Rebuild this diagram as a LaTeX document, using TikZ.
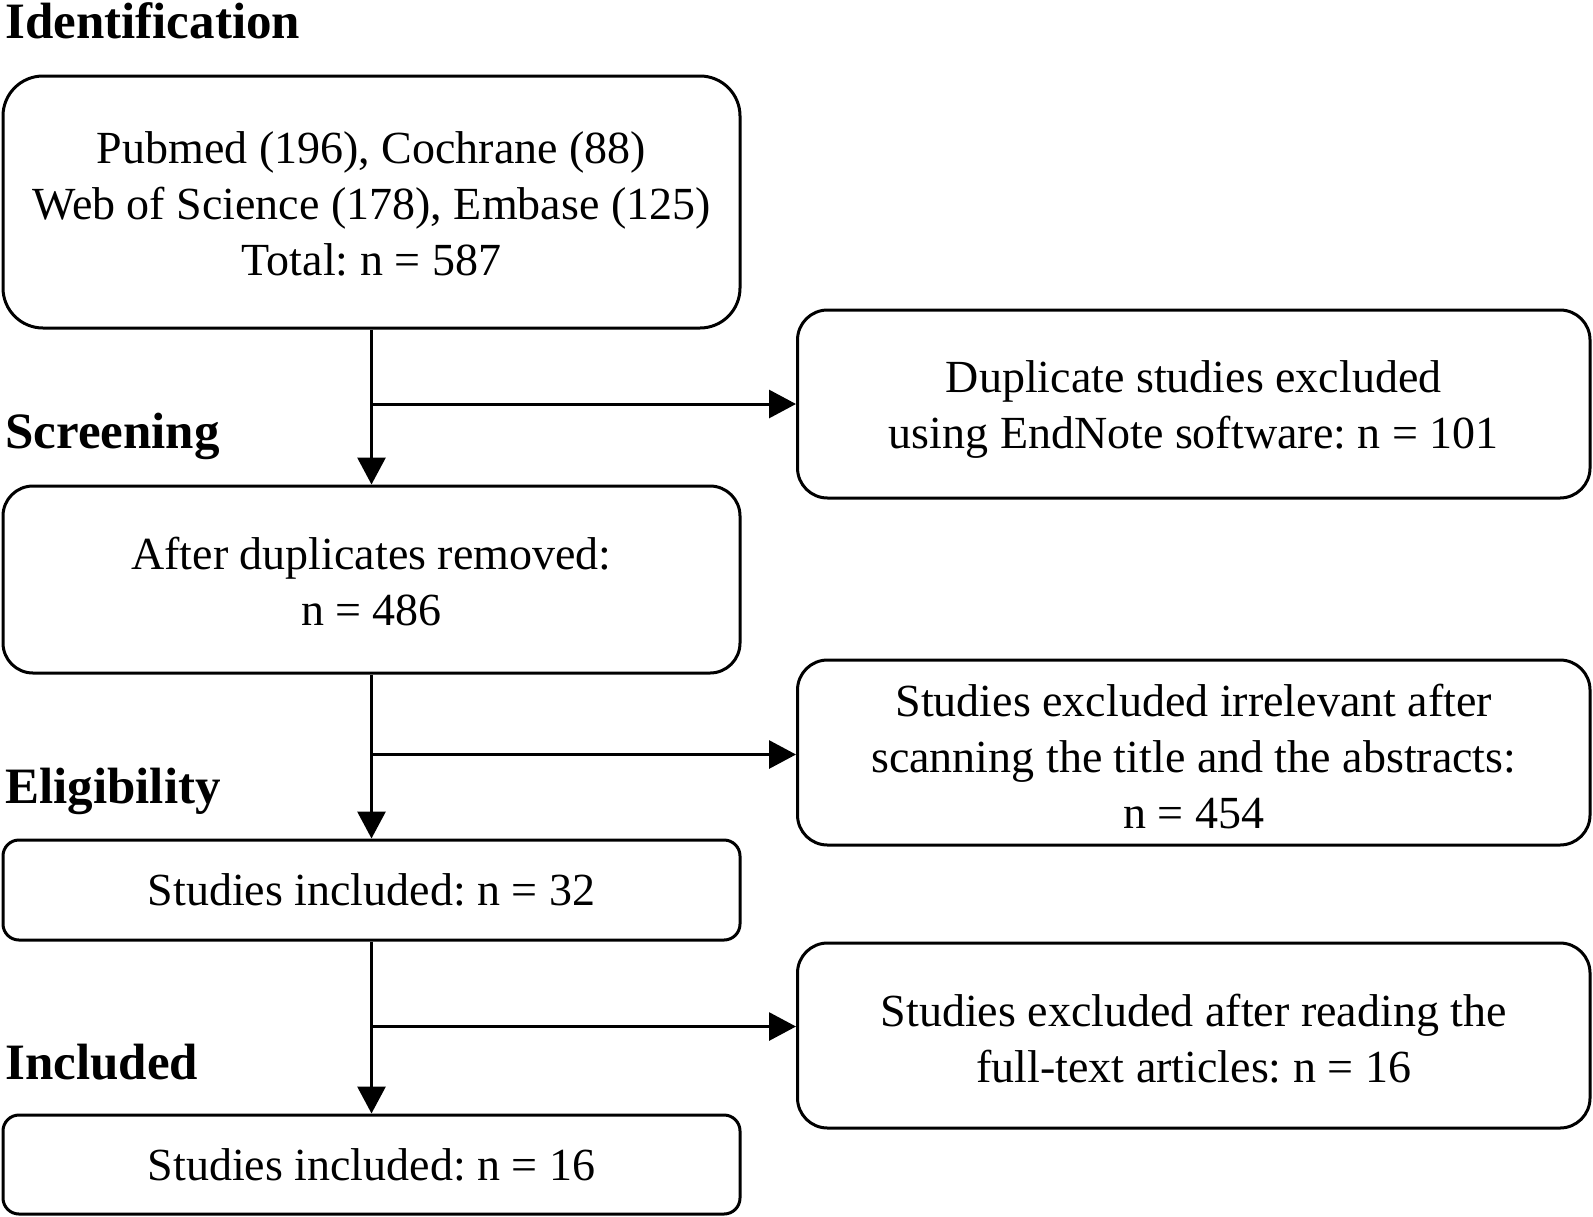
\documentclass[tikz,border=0pt]{standalone}
\usepackage{fontspec}
\setmainfont{Liberation Serif}
\usetikzlibrary{arrows.meta}
\frenchspacing
\newcommand{\tsup}[1]{\rule{0pt}{#1}}
\begin{document}
\begin{tikzpicture}[x=0.5pt,y=-0.5pt,
  box/.style={draw=black, line width=1.5pt, align=center, inner sep=0pt,
    font=\fontsize{23pt}{28pt}\selectfont\frenchspacing},
  head/.style={anchor=base west, inner sep=0pt, font=\fontsize{25.5pt}{30pt}\selectfont\bfseries},
  arr/.style={line width=1.5pt, -{Triangle[length=13.5pt,width=14pt]}},
  ln/.style={line width=1.5pt}]
\useasboundingbox (0,0) rectangle (1593,1216);
\node[box, rounded corners=20pt, minimum width=368.5pt, minimum height=126pt] (b1) at (371.5,202)
  {\tsup{18pt}Pubmed (196), Cochrane (88)\\Web of Science (178), Embase (125)\\Total: n = 587};
\node[box, rounded corners=15pt, minimum width=396.25pt, minimum height=94pt] (b2) at (1193.75,404)
  {\tsup{21pt}Duplicate studies excluded\\using EndNote software: n = 101};
\node[box, rounded corners=15pt, minimum width=368.5pt, minimum height=93.5pt] (b3) at (371.5,579.5)
  {\tsup{18pt}After duplicates removed:\\n = 486};
\node[box, rounded corners=15pt, minimum width=396.25pt, minimum height=92.5pt] (b4) at (1193.75,752.5)
  {\tsup{20pt}Studies excluded irrelevant after\\scanning the title and the abstracts:\\n = 454};
\node[box, rounded corners=8pt, minimum width=368.5pt, minimum height=50pt] (b5) at (371.5,890)
  {Studies included: n = 32};
\node[box, rounded corners=15pt, minimum width=396.25pt, minimum height=92.5pt] (b6) at (1193.75,1035.5)
  {\tsup{19pt}Studies excluded after reading the\\full-text articles: n = 16};
\node[box, rounded corners=8pt, minimum width=368.5pt, minimum height=49.5pt] (b7) at (371.5,1164.5)
  {Studies included: n = 16};
\node[head] (h1) at (5,38) {Identification};
\node[head] (h2) at (5,448) {Screening};
\node[head] (h3) at (5,803) {Eligibility};
\node[head] (h4) at (5,1079) {Included};
\draw[arr] (b1.south) -- (b3.north);
\draw[arr] (b3.south) -- (b5.north);
\draw[arr] (b5.south) -- (b7.north);
\draw[arr] (b2.west -| b1.south) -- (b2.west);
\draw[arr] ([yshift=-1pt]b4.west -| b1.south) -- ([yshift=-1pt]b4.west);
\draw[arr] ([yshift=4.5pt]b6.west -| b1.south) -- ([yshift=4.5pt]b6.west);
\end{tikzpicture}
\end{document}
